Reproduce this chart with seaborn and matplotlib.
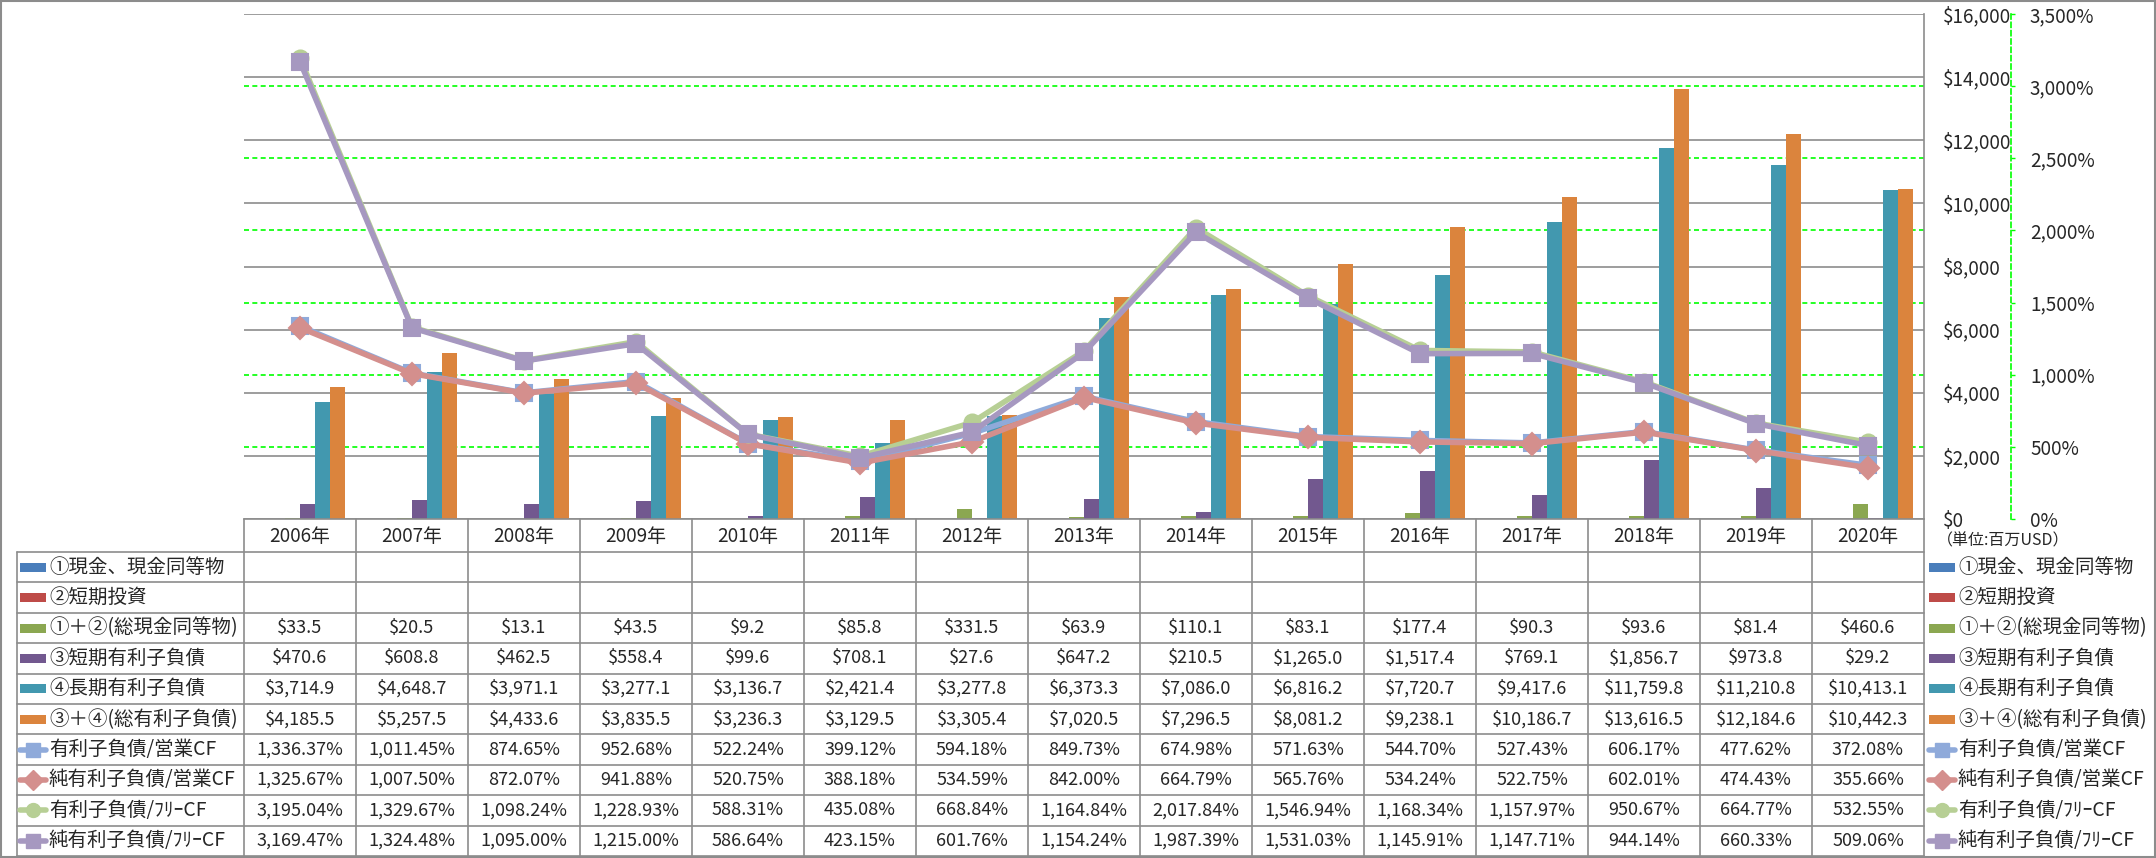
import numpy as np
import pandas as pd
import matplotlib
matplotlib.use("Agg")
import matplotlib.pyplot as plt
import seaborn as sns
from matplotlib.transforms import blended_transform_factory
from matplotlib.lines import Line2D
from matplotlib.patches import Rectangle
from matplotlib.ticker import FuncFormatter, MultipleLocator

# ---------------- data ----------------
years = ["2006年", "2007年", "2008年", "2009年", "2010年", "2011年", "2012年", "2013年",
         "2014年", "2015年", "2016年", "2017年", "2018年", "2019年", "2020年"]

cash = [np.nan] * 15
short_inv = [np.nan] * 15
total_cash = [33.5, 20.5, 13.1, 43.5, 9.2, 85.8, 331.5, 63.9, 110.1, 83.1, 177.4, 90.3, 93.6, 81.4, 460.6]
short_debt = [470.6, 608.8, 462.5, 558.4, 99.6, 708.1, 27.6, 647.2, 210.5, 1265.0, 1517.4, 769.1, 1856.7, 973.8, 29.2]
long_debt = [3714.9, 4648.7, 3971.1, 3277.1, 3136.7, 2421.4, 3277.8, 6373.3, 7086.0, 6816.2, 7720.7, 9417.6,
             11759.8, 11210.8, 10413.1]
total_debt = [4185.5, 5257.5, 4433.6, 3835.5, 3236.3, 3129.5, 3305.4, 7020.5, 7296.5, 8081.2, 9238.1, 10186.7,
              13616.5, 12184.6, 10442.3]
debt_ocf = [1336.37, 1011.45, 874.65, 952.68, 522.24, 399.12, 594.18, 849.73, 674.98, 571.63, 544.70, 527.43,
            606.17, 477.62, 372.08]
net_debt_ocf = [1325.67, 1007.50, 872.07, 941.88, 520.75, 388.18, 534.59, 842.00, 664.79, 565.76, 534.24, 522.75,
                602.01, 474.43, 355.66]
debt_fcf = [3195.04, 1329.67, 1098.24, 1228.93, 588.31, 435.08, 668.84, 1164.84, 2017.84, 1546.94, 1168.34,
            1157.97, 950.67, 664.77, 532.55]
net_debt_fcf = [3169.47, 1324.48, 1095.00, 1215.00, 586.64, 423.15, 601.76, 1154.24, 1987.39, 1531.03, 1145.91,
                1147.71, 944.14, 660.33, 509.06]

bar_names = ["①現金、現金同等物", "②短期投資", "①＋②(総現金同等物)", "③短期有利子負債",
             "④長期有利子負債", "③＋④(総有利子負債)"]
bar_values = [cash, short_inv, total_cash, short_debt, long_debt, total_debt]
bar_colors = ["#4A7EBB", "#BE4B48", "#8BA751", "#72588F", "#4298AF", "#DB843D"]

line_names = ["有利子負債/営業CF", "純有利子負債/営業CF", "有利子負債/ﾌﾘｰCF", "純有利子負債/ﾌﾘｰCF"]
line_values = [debt_ocf, net_debt_ocf, debt_fcf, net_debt_fcf]
line_colors = ["#8FAADA", "#D48F8D", "#B7CF95", "#A698C0"]
line_markers = ["s", "D", "o", "s"]

unit_label = "（単位:百万USD）"

# ---------------- style ----------------
sns.set_style("white")
plt.rcParams["font.family"] = ["Noto Sans CJK JP", "DejaVu Sans"]
plt.rcParams["axes.unicode_minus"] = False

W, H = 2156, 858
fig = plt.figure(figsize=(W / 100, H / 100), dpi=100)
fig.patch.set_facecolor("white")


def fx(px):
    return px / W


def fy(py):
    return 1 - py / H


PT = 72 / 100  # points per pixel at dpi 100

AX_L, AX_R, AX_T, AX_B = 244, 1924, 14, 519
ax = fig.add_axes([fx(AX_L), fy(AX_B), fx(AX_R - AX_L), (AX_B - AX_T) / H])

bar_df = pd.DataFrame([(n, y, v) for n, vals in zip(bar_names, bar_values) for y, v in zip(years, vals)],
                      columns=["series", "year", "value"])
line_df = pd.DataFrame([(n, y, v) for n, vals in zip(line_names, line_values) for y, v in zip(years, vals)],
                       columns=["series", "year", "value"])

sns.barplot(data=bar_df, x="year", y="value", hue="series", order=years, hue_order=bar_names,
            palette=dict(zip(bar_names, bar_colors)), errorbar=None, saturation=1, linewidth=0,
            width=0.8, legend=False, ax=ax, zorder=2)

ax2 = ax.twinx()
sns.pointplot(data=line_df, x="year", y="value", hue="series", order=years, hue_order=line_names,
              palette=dict(zip(line_names, line_colors)), markers=line_markers, linestyles="-",
              errorbar=None, dodge=False, legend=False, ax=ax2, linewidth=4.0, markersize=11.5,
              markeredgewidth=1.5)

GRID = "#8C8C8C"
FS = 13
FS_TXT = 14

# primary axis
ax.set_xlim(-0.5, len(years) - 0.5)
ax.set_ylim(0, 16000)
ax.yaxis.set_major_locator(MultipleLocator(2000))
ax.yaxis.set_major_formatter(FuncFormatter(lambda v, p: f"${v:,.0f}"))
ax.yaxis.tick_right()
ax.tick_params(axis="y", which="both", left=False, right=False, labelleft=False, labelright=True,
               length=0, pad=19 * PT, labelsize=13.6)
ax.tick_params(axis="x", length=0, pad=7 * PT, labelsize=13.6)
ax.set_xlabel("")
ax.set_ylabel("")
ax.yaxis.grid(True, color=GRID, linewidth=1.2, zorder=0)
ax.xaxis.grid(False)
ax.set_axisbelow(True)
for s in ["left", "top"]:
    ax.spines[s].set_visible(False)
for s in ["right", "bottom"]:
    ax.spines[s].set_color(GRID)
    ax.spines[s].set_linewidth(1.2)

# secondary axis
ax2.set_ylim(0, 3500)
ax2.yaxis.set_major_locator(MultipleLocator(500))
ax2.yaxis.set_major_formatter(FuncFormatter(lambda v, p: f"{v:,.0f}%"))
ax2.set_ylabel("")
ax2.set_xlabel("")
for s in ["left", "top", "bottom"]:
    ax2.spines[s].set_visible(False)
ax2.spines["right"].set_position(("outward", 87 * PT))
ax2.spines["right"].set_color("#00FF00")
ax2.spines["right"].set_linestyle((0, (3, 2)))
ax2.spines["right"].set_linewidth(1.2)
ax2.tick_params(axis="y", direction="out", length=4 * PT, width=1, color="#00FF00", pad=15 * PT,
                labelsize=13.6)
ax2.grid(False)

# secondary (green dashed) gridlines, drawn behind the bars
gtrans = blended_transform_factory(ax.transAxes, ax2.transData)
for v in np.arange(500, 3500, 500):
    ax.add_artist(Line2D([0, 1], [v, v], transform=gtrans, color="#00FF00", lw=1.2,
                         linestyle=(0, (3, 2)), zorder=1))

# ---------------- data table ----------------
ROW0 = 552
RH = 30.4
n_rows = len(bar_names) + len(line_names)
row_edges = [ROW0 + RH * k for k in range(n_rows + 1)]
ttrans = blended_transform_factory(ax.transData, fig.transFigure)

for ye in row_edges:
    fig.add_artist(Line2D([fx(17), fx(AX_R)], [fy(ye), fy(ye)], transform=fig.transFigure,
                          color=GRID, lw=1.2))
fig.add_artist(Line2D([fx(17), fx(17)], [fy(ROW0), fy(row_edges[-1])], transform=fig.transFigure,
                      color=GRID, lw=1.2))
for i in range(len(years) + 1):
    fig.add_artist(Line2D([i - 0.5, i - 0.5], [fy(AX_B), fy(row_edges[-1])], transform=ttrans,
                          color=GRID, lw=1.2))

all_names = bar_names + line_names
all_vals = bar_values + line_values
for r, (name, vals) in enumerate(zip(all_names, all_vals)):
    yc = fy(ROW0 + RH * (r + 0.5))
    for i, v in enumerate(vals):
        if np.isnan(v):
            continue
        s = f"${v:,.1f}" if r < len(bar_names) else f"{v:,.2f}%"
        fig.text(i, yc, s, transform=ttrans, ha="center", va="center", fontsize=FS)


def legend_key(x0, r, name):
    yc = fy(ROW0 + RH * (r + 0.5))
    if r < len(bar_names):
        fig.add_artist(Rectangle((fx(x0), yc - 4.5 / H), fx(26), 9 / H, transform=fig.transFigure,
                                 facecolor=bar_colors[r], edgecolor="none"))
    else:
        k = r - len(bar_names)
        fig.add_artist(Line2D([fx(x0), fx(x0 + 26)], [yc, yc], transform=fig.transFigure,
                              color=line_colors[k], lw=4))
        fig.add_artist(Line2D([fx(x0 + 13)], [yc], transform=fig.transFigure, color=line_colors[k],
                              marker=line_markers[k], markersize=10, lw=0))
    fig.text(fx(x0 + 29), yc, name, transform=fig.transFigure, ha="left", va="center", fontsize=FS_TXT)


for r, name in enumerate(all_names):
    legend_key(20, r, name)
    legend_key(1929, r, name)

fig.text(fx(1937), fy(541), unit_label, transform=fig.transFigure, ha="left", va="center", fontsize=11.5)

# outer frame
fig.add_artist(Rectangle((0.0005, 0.001), 0.999, 0.998, transform=fig.transFigure, fill=False,
                         edgecolor="#8C8C8C", lw=1.5))

fig.savefig("out.png", dpi=100, facecolor="white")
